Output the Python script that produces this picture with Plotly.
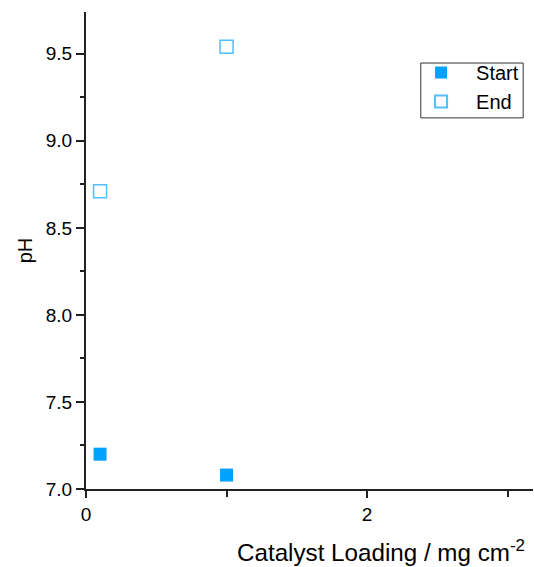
import plotly.graph_objects as go

loading = [0.1, 1.0]
ph_start = [7.20, 7.08]
ph_end = [8.71, 9.54]
x_tick_vals = [0, 2]
x_tick_text = ["0", "2"]
x_minor_vals = [1, 3]
y_tick_vals = [7.0, 7.5, 8.0, 8.5, 9.0, 9.5]
y_tick_text = ["7.0", "7.5", "8.0", "8.5", "9.0", "9.5"]
y_minor_vals = [7.25, 7.75, 8.25, 8.75, 9.25, 9.75]

FONT = "Liberation Sans, Arial, sans-serif"

fig = go.Figure()
fig.add_trace(go.Scatter(
    x=loading, y=ph_start, mode="markers", name="Start",
    marker=dict(symbol="square", size=13, color="rgb(0,162,255)",
                line=dict(width=0))))
fig.add_trace(go.Scatter(
    x=loading, y=ph_end, mode="markers", name="End",
    marker=dict(symbol="square-open", size=13, color="rgb(80,190,255)",
                line=dict(width=1.5))))

fig.update_layout(
    width=534, height=567,
    margin=dict(l=86, r=1, t=12, b=78),
    paper_bgcolor="white", plot_bgcolor="white",
    font=dict(family=FONT, size=19, color="black"),
    showlegend=True,
    legend=dict(x=0.716, y=0.914, xanchor="left", yanchor="top",
                borderwidth=0, bgcolor="rgba(0,0,0,0)",
                font=dict(size=20), itemsizing="constant", itemwidth=60,
                tracegroupgap=0),
    xaxis=dict(range=[0, 3.18], showgrid=False, zeroline=False,
               showline=True, linecolor="#222", linewidth=2,
               tickmode="array", tickvals=x_tick_vals, ticktext=x_tick_text,
               ticks="outside", ticklen=7, tickwidth=1.5, tickcolor="#222",
               tickfont=dict(size=19),
               minor=dict(tickvals=x_minor_vals, ticks="outside", ticklen=6,
                          tickwidth=1.5, tickcolor="#222")),
    yaxis=dict(range=[7.0, 9.74], showgrid=False, zeroline=False,
               showline=True, linecolor="#222", linewidth=2,
               tickmode="array", tickvals=y_tick_vals, ticktext=y_tick_text,
               ticks="outside", ticklen=8, tickwidth=1.5, tickcolor="#222",
               tickfont=dict(size=19),
               minor=dict(tickvals=y_minor_vals,
                          ticks="outside", ticklen=4, tickwidth=1.5,
                          tickcolor="#222"),
               title=dict(text="pH", font=dict(size=20), standoff=8)),
)

# legend frame
fig.add_shape(type="rect", xref="paper", yref="paper",
              x0=0.749, x1=0.978, y0=0.778, y1=0.893,
              line=dict(color="#333", width=1), fillcolor="rgba(0,0,0,0)",
              layer="below")

fig.add_annotation(
    text="Catalyst Loading / mg cm<sup>-2</sup>",
    xref="paper", yref="paper", x=1.0, y=0, xanchor="right", yanchor="top",
    yshift=-45, xshift=-6, showarrow=False, font=dict(size=24.2, family=FONT))

fig.write_html(
    "out.html",
    config={"displayModeBar": False},
    post_script="document.body.style.margin='0';document.body.style.overflow='hidden';")
